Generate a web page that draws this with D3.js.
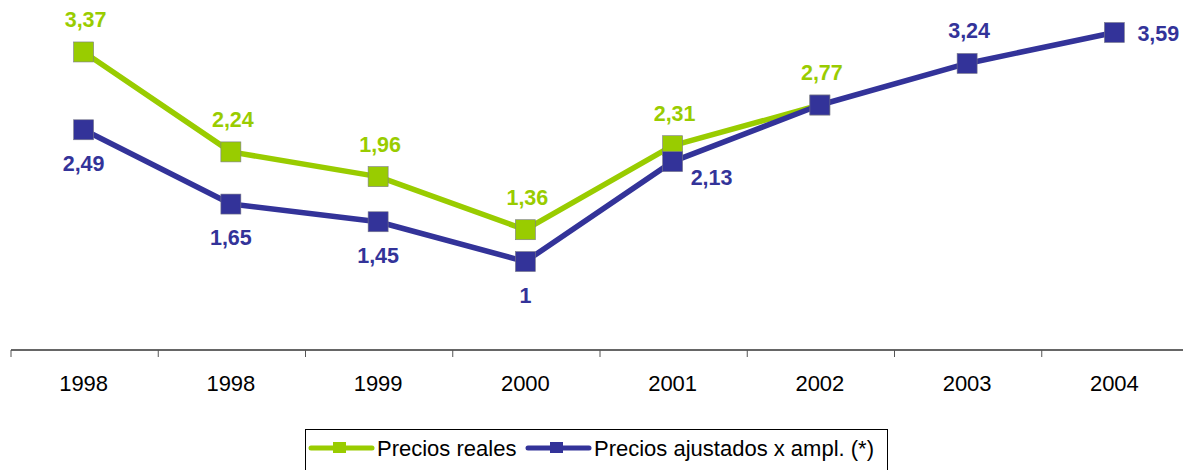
<!DOCTYPE html>
<html>
<head>
<meta charset="utf-8">
<script src="https://cdn.jsdelivr.net/npm/d3@7/dist/d3.min.js"></script>
<style>
  html, body { margin: 0; padding: 0; background: #fff; }
  svg { display: block; font-family: "Liberation Sans", Arial, sans-serif; }
</style>
</head>
<body>
<svg id="chart" width="1183" height="470"></svg>
<script>
// Years along the x axis (1998 appears twice in the source table)
const years = ["1998", "1998", "1999", "2000", "2001", "2002", "2003", "2004"];
// Precios reales (series ends in 2002)
const realPrices = [3.37, 2.24, 1.96, 1.36, 2.31, 2.77, null, null];
// Precios ajustados x ampl. (*)
const adjustedPrices = [2.49, 1.65, 1.45, 1.00, 2.13, 2.77, 3.24, 3.59];
// Which points carry a value label, and where it sits relative to the marker
const realLabelPos = ["above", "above", "above", "above", "above", "above", null, null];
const adjustedLabelPos = ["below", "below", "below", "below", "belowRight", null, "above", "right"];
const seriesNames = ["Precios reales", "Precios ajustados x ampl. (*)"];

const GREEN = "#99CC00";
const BLUE = "#333399";

const svg = d3.select("#chart");
const idx = years.map((_, i) => i);

const x = d3.scaleBand().domain(idx).range([11, 1189]).paddingInner(0).paddingOuter(0);
const y = d3.scaleLinear().domain([0, 3.59]).range([350, 32.5]);
const cx = i => x(i) + x.bandwidth() / 2 - 1;

// Category axis with ticks on the band boundaries
const axisG = svg.append("g").attr("transform", "translate(0,350)");
axisG.append("line")
  .attr("x1", 11).attr("x2", 1183).attr("y1", 0).attr("y2", 0)
  .attr("stroke", "#333").attr("stroke-width", 1.5);
axisG.selectAll("line.tick")
  .data(idx)
  .enter().append("line")
  .attr("class", "tick")
  .attr("x1", i => x(i)).attr("x2", i => x(i))
  .attr("y1", 0).attr("y2", 7)
  .attr("stroke", "#555").attr("stroke-width", 1);
axisG.selectAll("text")
  .data(idx)
  .enter().append("text")
  .attr("x", i => cx(i))
  .attr("y", 41)
  .attr("text-anchor", "middle")
  .attr("font-size", 22)
  .attr("fill", "#000")
  .text(i => years[i]);

function drawSeries(values, color, labelPos) {
  const pts = idx.filter(i => values[i] != null);
  const line = d3.line().x(i => cx(i)).y(i => y(values[i]));
  svg.append("path")
    .attr("d", line(pts))
    .attr("fill", "none")
    .attr("stroke", color)
    .attr("stroke-width", 5.5)
    .attr("stroke-linejoin", "round");
  svg.selectAll(null)
    .data(pts)
    .enter().append("rect")
    .attr("x", i => cx(i) - 10)
    .attr("y", i => y(values[i]) - 10)
    .attr("width", 20).attr("height", 20)
    .attr("fill", color)
    .attr("stroke", "#7a7a8a").attr("stroke-width", 0.6);
  const off = {
    above: [2, -25, "middle"],
    below: [0, 41, "middle"],
    belowRight: [18, 23, "start"],
    right: [23, 8, "start"]
  };
  svg.selectAll(null)
    .data(pts.filter(i => labelPos[i]))
    .enter().append("text")
    .attr("x", i => cx(i) + off[labelPos[i]][0])
    .attr("y", i => y(values[i]) + off[labelPos[i]][1])
    .attr("text-anchor", i => off[labelPos[i]][2])
    .attr("font-size", 21.5)
    .attr("font-weight", "bold")
    .attr("fill", color)
    .text(i => d3.format(".2~f")(values[i]).replace(".", ","));
}

drawSeries(realPrices, GREEN, realLabelPos);
drawSeries(adjustedPrices, BLUE, adjustedLabelPos);

// Legend
const legend = svg.append("g");
legend.append("rect")
  .attr("x", 305.5).attr("y", 429.5).attr("width", 582).attr("height", 50)
  .attr("fill", "#fff").attr("stroke", "#000").attr("stroke-width", 1);
const legendItems = [
  { name: seriesNames[0], color: GREEN, x0: 311 },
  { name: seriesNames[1], color: BLUE, x0: 528 }
];
legendItems.forEach(d => {
  const g = legend.append("g");
  g.append("line")
    .attr("x1", d.x0).attr("x2", d.x0 + 61).attr("y1", 448).attr("y2", 448)
    .attr("stroke", d.color).attr("stroke-width", 5).attr("stroke-linecap", "round");
  g.append("rect")
    .attr("x", d.x0 + 22).attr("y", 442).attr("width", 13).attr("height", 11)
    .attr("fill", d.color);
  g.append("text")
    .attr("x", d.x0 + 66).attr("y", 456)
    .attr("font-size", 22).attr("fill", "#000")
    .text(d.name);
});
</script>
</body>
</html>
